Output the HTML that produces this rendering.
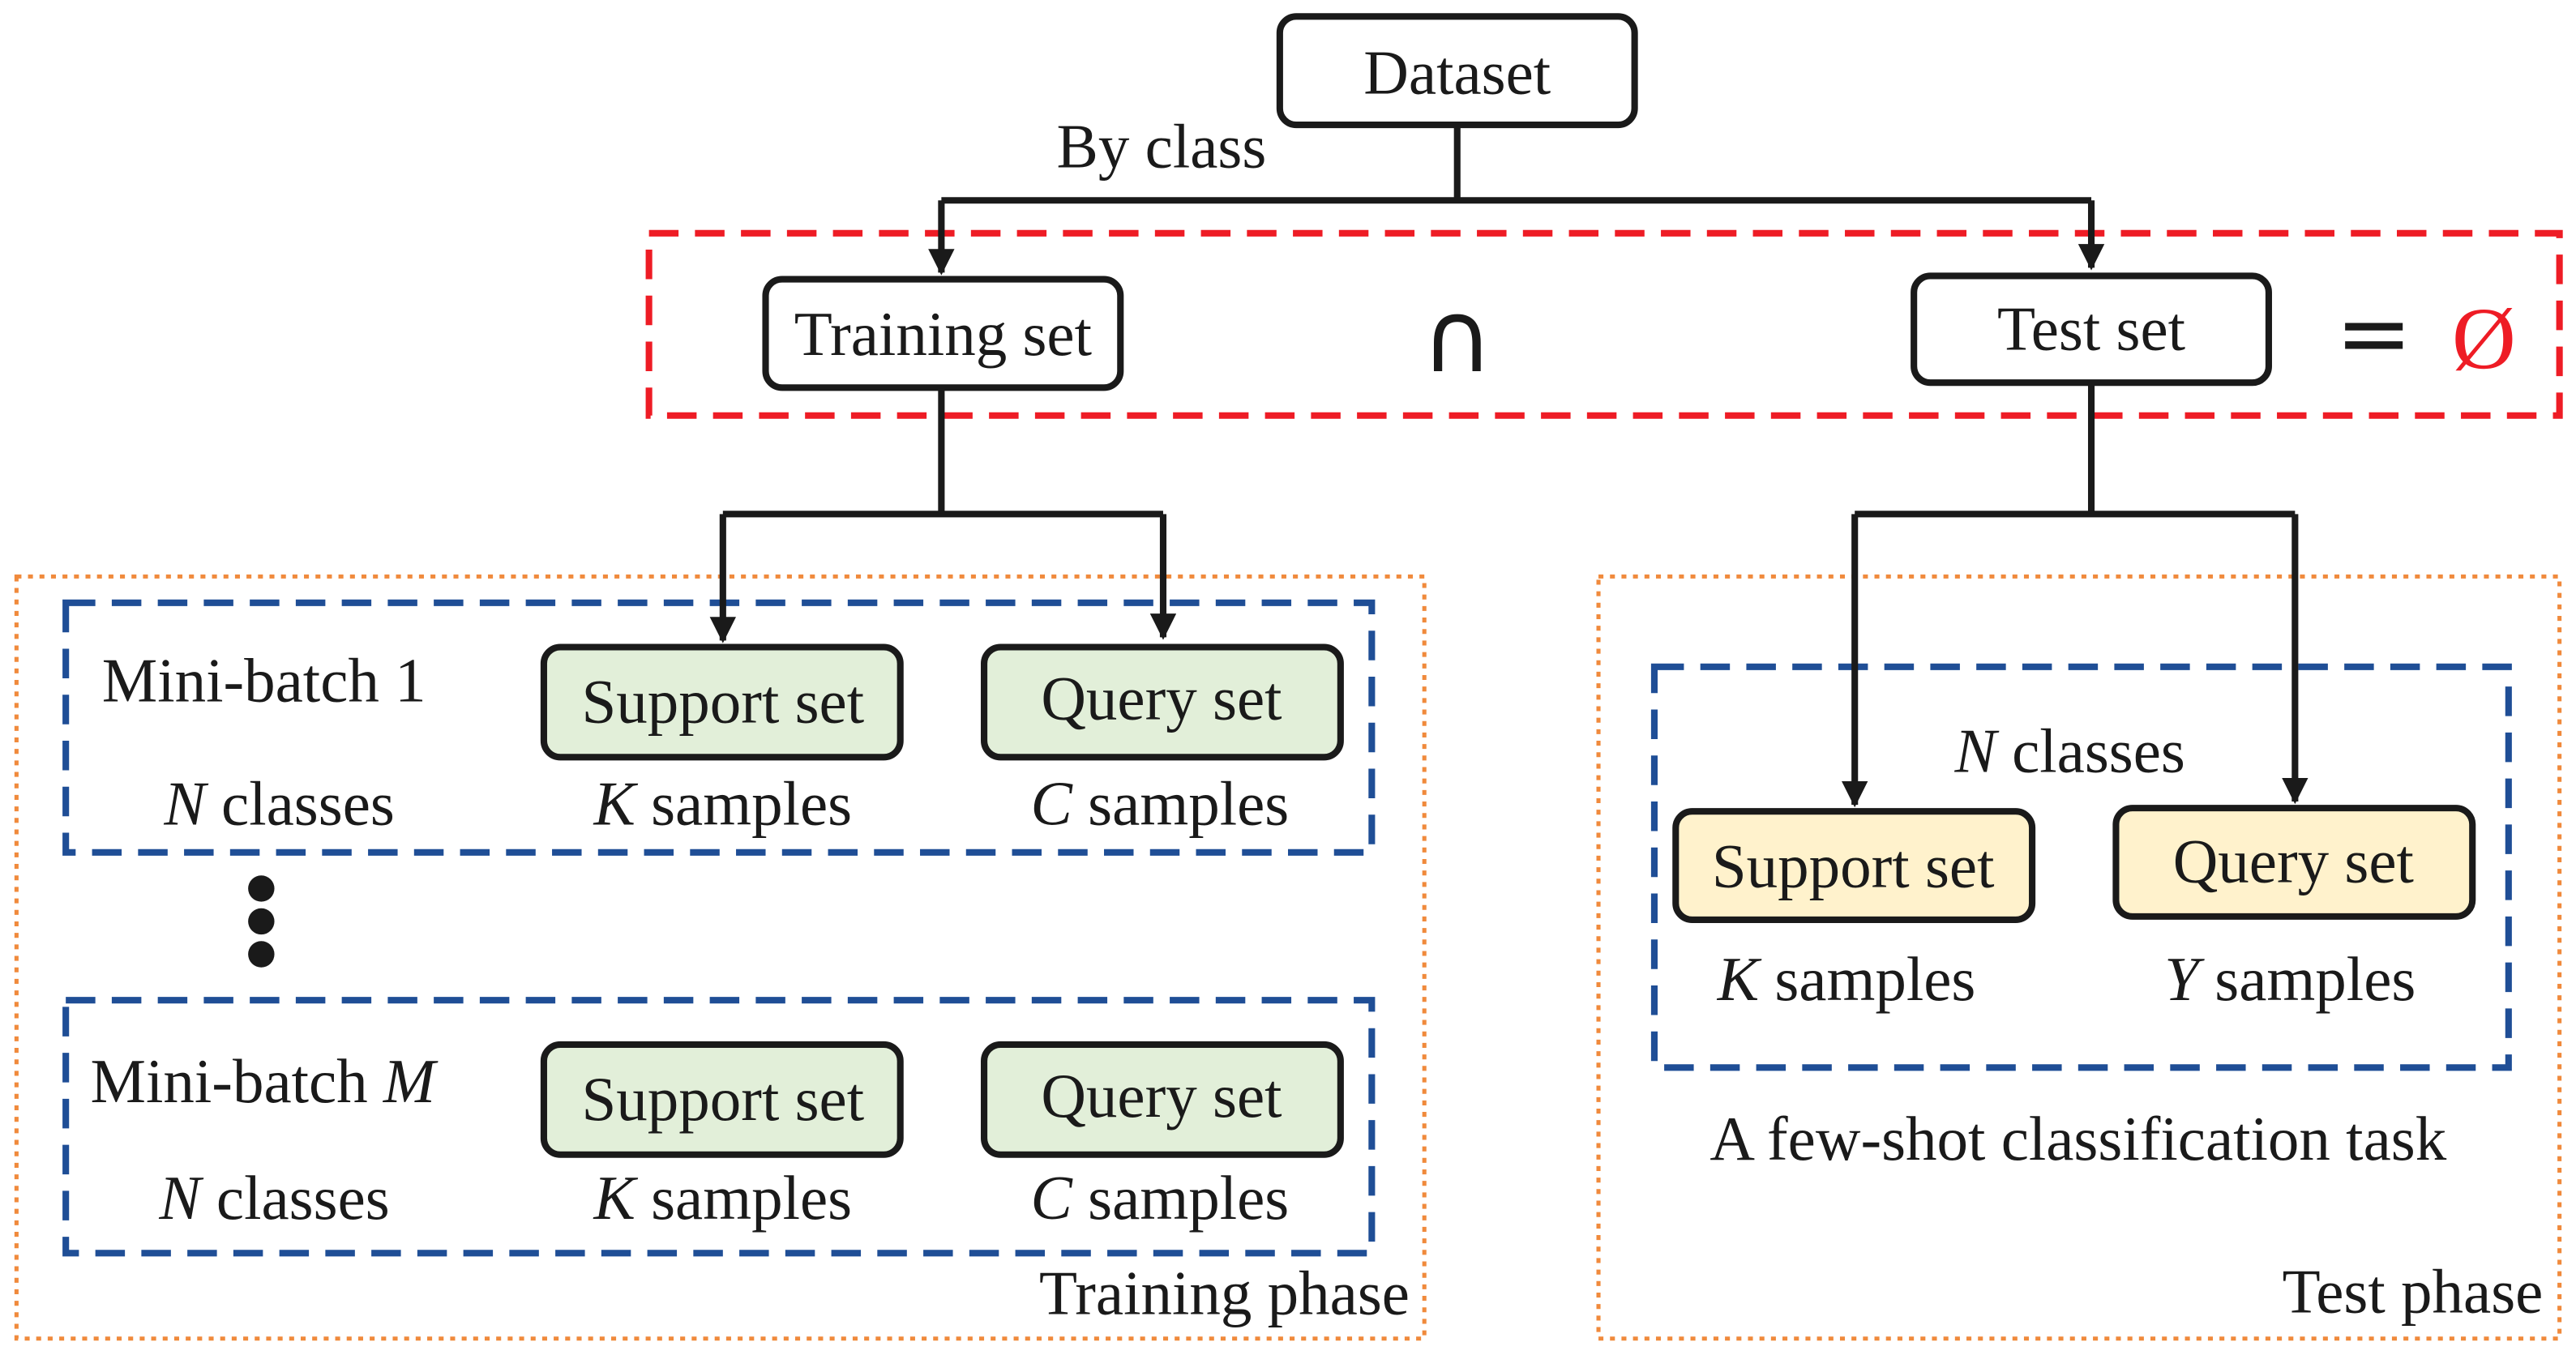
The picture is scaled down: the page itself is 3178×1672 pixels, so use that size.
<!DOCTYPE html>
<html><head><meta charset="utf-8"><style>html,body{margin:0;padding:0;background:#fff}svg{display:block}</style></head><body>
<svg width="3178" height="1672" viewBox="0 0 1568 825" xmlns="http://www.w3.org/2000/svg" font-family="Liberation Serif, serif" font-size="38">
<defs><marker id="a" viewBox="0 0 10 10" refX="9" refY="5" markerWidth="4" markerHeight="4" orient="auto"><path d="M0,0L10,5L0,10z" fill="#1a1a1a"/></marker></defs>
<rect x="0" y="0" width="1568" height="825" fill="#fff"/>
<rect x="395" y="142" width="1163" height="111" fill="none" stroke="#ee1c25" stroke-width="4" stroke-dasharray="18,10"/>
<rect x="10" y="351" width="857" height="464" fill="none" stroke="#f08a3c" stroke-width="2.5" stroke-dasharray="3,4"/>
<rect x="973" y="351" width="585" height="464" fill="none" stroke="#f08a3c" stroke-width="2.5" stroke-dasharray="3,4"/>
<g fill="none" stroke="#1f4e96" stroke-width="4" stroke-dasharray="18,10">
<rect x="40" y="367" width="795" height="152"/>
<rect x="40" y="609" width="795" height="154"/>
<rect x="1007" y="406" width="520" height="244"/>
</g>
<g fill="none" stroke="#1a1a1a" stroke-width="4">
<path d="M887,76V122M573,122H1273"/>
<path d="M573,122V166" marker-end="url(#a)"/>
<path d="M1273,122V163" marker-end="url(#a)"/>
<path d="M573,236V313M440,313H708"/>
<path d="M440,313V390" marker-end="url(#a)"/>
<path d="M708,313V388" marker-end="url(#a)"/>
<path d="M1273,233V313M1129,313H1397"/>
<path d="M1129,313V490" marker-end="url(#a)"/>
<path d="M1397,313V488" marker-end="url(#a)"/>
</g>
<g stroke="#1a1a1a" stroke-width="4">
<rect x="779" y="10" width="216" height="66" rx="10" fill="#fff"/>
<rect x="466" y="170" width="216" height="66" rx="10" fill="#fff"/>
<rect x="1165" y="168" width="216" height="65" rx="10" fill="#fff"/>
<rect x="331" y="394" width="217" height="67" rx="10" fill="#e2efd9"/>
<rect x="599" y="394" width="217" height="67" rx="10" fill="#e2efd9"/>
<rect x="331" y="636" width="217" height="67" rx="10" fill="#e2efd9"/>
<rect x="599" y="636" width="217" height="67" rx="10" fill="#e2efd9"/>
<rect x="1020" y="494" width="217" height="66" rx="10" fill="#fff2cc"/>
<rect x="1288" y="492" width="217" height="66" rx="10" fill="#fff2cc"/>
</g>
<g fill="#1a1a1a" text-anchor="middle">
<text x="887" y="57">Dataset</text>
<text x="707" y="102">By class</text>
<text x="574" y="216">Training set</text>
<text x="1273" y="213">Test set</text>
<text x="887" y="226" font-size="60" font-family="DejaVu Sans, sans-serif">∩</text>
<text x="1445" y="222" font-size="56" font-family="DejaVu Sans, sans-serif">=</text>
<text x="1512" y="224" font-size="54" fill="#ee1c25">Ø</text>
<text x="440" y="440">Support set</text>
<text x="707" y="438">Query set</text>
<text x="440" y="682">Support set</text>
<text x="707" y="680">Query set</text>
<text x="1128" y="540">Support set</text>
<text x="1396" y="537">Query set</text>
<text x="170" y="502"><tspan font-style="italic">N</tspan> classes</text>
<text x="440" y="502"><tspan font-style="italic">K</tspan> samples</text>
<text x="706" y="502"><tspan font-style="italic">C</tspan> samples</text>
<text x="167" y="742"><tspan font-style="italic">N</tspan> classes</text>
<text x="440" y="742"><tspan font-style="italic">K</tspan> samples</text>
<text x="706" y="742"><tspan font-style="italic">C</tspan> samples</text>
<text x="1260" y="470"><tspan font-style="italic">N</tspan> classes</text>
<text x="1124" y="609"><tspan font-style="italic">K</tspan> samples</text>
<text x="1394" y="609"><tspan font-style="italic">Y</tspan> samples</text>
<text x="1265" y="706">A few-shot classification task</text>
</g>
<g fill="#1a1a1a">
<text x="62" y="427">Mini-batch 1</text>
<text x="55" y="671">Mini-batch <tspan font-style="italic">M</tspan></text>
<text x="858" y="800" text-anchor="end">Training phase</text>
<text x="1548" y="799" text-anchor="end">Test phase</text>
<circle cx="159" cy="541" r="8"/><circle cx="159" cy="561" r="8"/><circle cx="159" cy="581" r="8"/>
</g>
</svg>
</body></html>
